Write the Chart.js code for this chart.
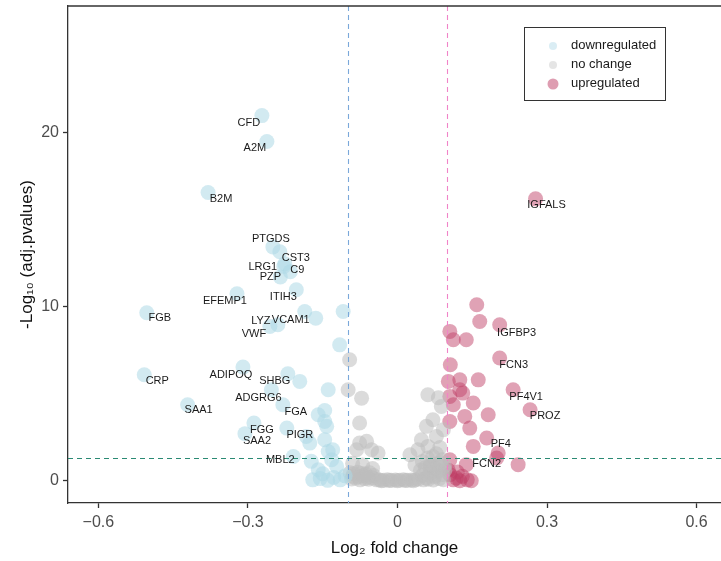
<!DOCTYPE html>
<html>
<head>
<meta charset="utf-8">
<script src="https://cdn.jsdelivr.net/npm/chart.js@4/dist/chart.umd.min.js"></script>
<style>
  html, body { margin: 0; padding: 0; background: #fff; }
  canvas { display: block; }
</style>
</head>
<body>
<canvas id="c" width="721" height="561"></canvas>
<script>
const FONT = "'Liberation Sans', Arial, Helvetica, sans-serif";

// log2 fold change / -log10(adj p)
const downGene = ["CFD", "A2M", "B2M", "PTGDS", "", "CST3", "LRG1", "C9", "PZP", "ITIH3", "EFEMP1", "FGB",
  "VCAM1", "", "LYZ", "VWF", "", "", "CRP", "ADIPOQ", "SHBG", "", "ADGRG6", "", "SAA1", "FGA", "", "", "",
  "FGG", "SAA2", "PIGR", "", "", "", "", "MBL2", "", "", "", "", "", "", "", "", "", "", "", "", ""];
const downX = [-0.272, -0.262, -0.380, -0.250, -0.236, -0.226, -0.228, -0.215, -0.235, -0.203, -0.322, -0.503,
  -0.186, -0.164, -0.240, -0.256, -0.109, -0.116, -0.508, -0.310, -0.220, -0.196, -0.253, -0.139, -0.421, -0.230,
  -0.159, -0.146, -0.146, -0.288, -0.306, -0.222, -0.183, -0.176, -0.142, -0.146, -0.209, -0.130, -0.139, -0.173,
  -0.132, -0.159, -0.122, -0.170, -0.155, -0.140, -0.128, -0.115, -0.105, -0.150];
const downY = [20.96, 19.47, 16.54, 13.42, 13.14, 12.45, 12.30, 12.00, 11.70, 10.96, 10.73, 9.64,
  9.71, 9.33, 8.95, 8.85, 9.71, 7.80, 6.08, 6.52, 6.14, 5.70, 5.22, 5.22, 4.36, 4.36,
  3.79, 4.03, 3.40, 3.31, 2.70, 3.02, 2.54, 2.16, 3.12, 2.35, 1.39, 1.78, 1.68, 1.11,
  1.20, 0.63, 0.82, 0.05, 0.12, 0.02, 0.18, 0.05, 0.28, 0.40];

const flatX = [-0.096, -0.099, -0.072, -0.076, -0.062, -0.082, -0.039, -0.052, -0.076, -0.090, -0.070, -0.050,
  0.061, 0.082, 0.088, 0.058, 0.071, 0.092, 0.078, 0.048, 0.061, 0.041, 0.025, 0.071, 0.085, 0.090,
  0.035, 0.050, 0.065, 0.080, 0.095,
  -0.095, -0.088, -0.080, -0.072, -0.064, -0.056, -0.048, -0.092, -0.084, -0.075, -0.066, -0.058, -0.050, -0.042,
  -0.090, -0.078, -0.068, -0.060,
  -0.036, -0.028, -0.020, -0.012, -0.004, 0.004, 0.012, 0.020, 0.028, 0.036,
  -0.032, -0.016, 0.000, 0.016, 0.032,
  0.042, 0.050, 0.058, 0.066, 0.074, 0.082, 0.090, 0.046, 0.056, 0.066, 0.076, 0.086, 0.094,
  0.052, 0.062, 0.072, 0.084, 0.092, 0.060, 0.078];
const flatY = [6.94, 5.22, 4.74, 3.31, 2.26, 1.78, 1.59, 1.78, 2.16, 1.00, 0.90, 0.70,
  4.93, 4.76, 4.26, 3.12, 3.50, 2.93, 2.54, 2.35, 1.97, 1.78, 1.49, 1.39, 1.90, 1.20,
  0.90, 1.10, 0.80, 0.95, 0.60,
  0.45, 0.40, 0.48, 0.42, 0.38, 0.45, 0.30, 0.10, 0.15, 0.05, 0.12, 0.08, 0.15, 0.05,
  0.25, 0.22, 0.28, 0.20,
  0.04, 0.02, 0.05, 0.02, 0.04, 0.03, 0.05, 0.02, 0.04, 0.06,
  0.00, 0.01, 0.00, 0.01, 0.00,
  0.10, 0.30, 0.15, 0.45, 0.25, 0.55, 0.35, 0.60, 0.75, 0.90, 0.70, 1.05, 0.85,
  0.05, 0.08, 0.04, 0.12, 0.06, 1.30, 1.55];

const upGene = ["IGFALS", "", "", "IGFBP3", "", "", "", "FCN3", "", "", "", "", "", "", "PF4V1", "", "", "",
  "PROZ", "", "", "", "", "PF4", "", "", "FCN2", "", "", "", "", "", "", "", "", "", "", "", ""];
const upX = [0.277, 0.159, 0.165, 0.205, 0.105, 0.112, 0.138, 0.205, 0.106, 0.102, 0.125, 0.162, 0.125, 0.131,
  0.232, 0.105, 0.112, 0.152, 0.266, 0.135, 0.182, 0.105, 0.145, 0.179, 0.152, 0.202, 0.199, 0.105, 0.138, 0.242,
  0.105, 0.112, 0.118, 0.125, 0.130, 0.140, 0.148, 0.102, 0.120];
const upY = [16.18, 10.10, 9.14, 8.95, 8.57, 8.09, 8.09, 7.04, 6.66, 5.70, 5.79, 5.79, 5.22, 5.03,
  5.22, 4.84, 4.36, 4.46, 4.07, 3.69, 3.79, 3.40, 3.02, 2.45, 1.97, 1.59, 1.30, 1.20, 0.92, 0.92,
  0.35, 0.05, 0.15, 0.00, 0.25, 0.05, 0.00, 0.60, 0.50];

const xTicks = [-0.6, -0.3, 0, 0.3, 0.6];
const yTicks = [0, 10, 20];
const fcCut = 0.1;
const pCut = 1.3;

// where each gene name sits relative to its point, in px
const nudge = {
  CFD: [-13, 7], A2M: [-12, 6], B2M: [13, 6], PTGDS: [-2, -8], CST3: [11, -6], LRG1: [-21, 1], C9: [7, -2],
  PZP: [-10, 0], ITIH3: [-13, 7], EFEMP1: [-12, 7], FGB: [13, 5], VCAM1: [-14, 8], LYZ: [-17, -4], VWF: [-16, 7],
  CRP: [13, 6], ADIPOQ: [-12, 8], SHBG: [-13, 7], ADGRG6: [-13, 8], SAA1: [11, 5], FGA: [13, 7], FGG: [8, 7],
  SAA2: [12, 7], PIGR: [13, 7], MBL2: [-13, 3],
  IGFALS: [11, 6], IGFBP3: [17, 8], FCN3: [14, 7], PF4V1: [13, 7], PROZ: [15, 6], PF4: [14, 6], FCN2: [-10, 6],
};

const groups = [
  { name: "downregulated", xs: downX, ys: downY, genes: downGene, fill: "rgba(173,216,230,0.55)", key: "rgba(173,216,230,0.45)", r: 4 },
  { name: "no change", xs: flatX, ys: flatY, genes: null, fill: "rgba(190,190,190,0.55)", key: "rgba(190,190,190,0.4)", r: 4 },
  { name: "upregulated", xs: upX, ys: upY, genes: upGene, fill: "rgba(190,60,100,0.48)", key: "rgba(190,60,100,0.5)", r: 5.5 },
];

const fmt = (v) => (v < 0 ? "\u2212" + Math.abs(v) : String(v));

const overlay = {
  id: "overlay",
  afterDatasetsDraw(chart) {
    const { ctx, chartArea: a, scales: { x, y } } = chart;
    ctx.save();
    ctx.lineWidth = 1.1;
    ctx.setLineDash([5, 4]);
    const vline = (v, c) => {
      const px = Math.round(x.getPixelForValue(v)) + 0.5;
      ctx.strokeStyle = c;
      ctx.beginPath(); ctx.moveTo(px, a.top); ctx.lineTo(px, a.bottom); ctx.stroke();
    };
    vline(-fcCut, "#7aa8da");
    vline(fcCut, "#f084c8");
    const py = Math.round(y.getPixelForValue(pCut)) + 0.5;
    ctx.strokeStyle = "#2a8a73";
    ctx.beginPath(); ctx.moveTo(a.left, py); ctx.lineTo(a.right, py); ctx.stroke();

    // top edge of the panel box
    ctx.setLineDash([]);
    ctx.strokeStyle = "#333";
    ctx.lineWidth = 1.3;
    ctx.beginPath(); ctx.moveTo(a.left, a.top); ctx.lineTo(a.right, a.top); ctx.stroke();

    // gene names
    ctx.font = "11px " + FONT;
    ctx.fillStyle = "#1a1a1a";
    ctx.textAlign = "center";
    ctx.textBaseline = "middle";
    for (const g of groups) {
      if (!g.genes) continue;
      g.genes.forEach((name, i) => {
        if (!name) return;
        const [dx, dy] = nudge[name] || [0, -10];
        ctx.fillText(name, x.getPixelForValue(g.xs[i]) + dx, y.getPixelForValue(g.ys[i]) + dy);
      });
    }

    // legend box
    const lx = a.right - 197, ly = a.top + 21;
    ctx.fillStyle = "#fff";
    ctx.fillRect(lx, ly, 141, 73);
    ctx.strokeStyle = "#333";
    ctx.lineWidth = 1;
    ctx.strokeRect(lx + 0.5, ly + 0.5, 141, 73);
    ctx.font = "13px " + FONT;
    ctx.textAlign = "left";
    groups.forEach((g, i) => {
      const cy = ly + 18 + i * 19;
      ctx.fillStyle = g.key;
      ctx.beginPath(); ctx.arc(lx + 29, cy + 1, g.r, 0, Math.PI * 2); ctx.fill();
      ctx.fillStyle = "#1a1a1a";
      ctx.fillText(g.name, lx + 47, cy);
    });
    ctx.restore();
  },
};

new Chart(document.getElementById("c"), {
  type: "scatter",
  data: {
    datasets: groups.map((g) => ({
      label: g.name,
      data: g.xs.map((v, i) => ({ x: v, y: g.ys[i] })),
      backgroundColor: g.fill,
      borderWidth: 0,
      pointRadius: 7.5,
      pointHoverRadius: 7.5,
    })),
  },
  options: {
    responsive: false,
    animation: false,
    devicePixelRatio: 1,
    layout: { autoPadding: false, padding: { top: 6, right: 0, left: 0, bottom: 0 } },
    plugins: { legend: { display: false }, tooltip: { enabled: false } },
    scales: {
      x: {
        type: "linear",
        min: -0.661,
        max: 0.649,
        afterBuildTicks: (s) => { s.ticks = xTicks.map((v) => ({ value: v })); },
        afterFit: (s) => { s.height = 58; s.paddingLeft = 0; s.paddingRight = 0; },
        ticks: { callback: fmt, font: { size: 16, family: FONT }, color: "#4d4d4d", padding: 5, maxRotation: 0 },
        grid: { drawOnChartArea: false, drawTicks: true, tickLength: 5, color: "#333", tickWidth: 1.3 },
        border: { color: "#333", width: 1.3 },
        title: { display: true, text: "Log\u2082 fold change", font: { size: 17, family: FONT }, color: "#111", padding: { top: 0, bottom: 2 } },
      },
      y: {
        type: "linear",
        min: -1.28,
        max: 27.25,
        afterBuildTicks: (s) => { s.ticks = yTicks.map((v) => ({ value: v })); },
        afterFit: (s) => { s.width = 68; s.paddingTop = 0; s.paddingBottom = 0; },
        ticks: { font: { size: 16, family: FONT }, color: "#4d4d4d", padding: 4 },
        grid: { drawOnChartArea: false, drawTicks: true, tickLength: 5, color: "#333", tickWidth: 1.3 },
        border: { color: "#333", width: 1.3 },
        title: { display: true, text: "-Log\u2081\u2080 (adj.pvalues)", font: { size: 17, family: FONT }, color: "#111", padding: { top: 17, bottom: 0 } },
      },
    },
  },
  plugins: [overlay],
});
</script>
</body>
</html>
